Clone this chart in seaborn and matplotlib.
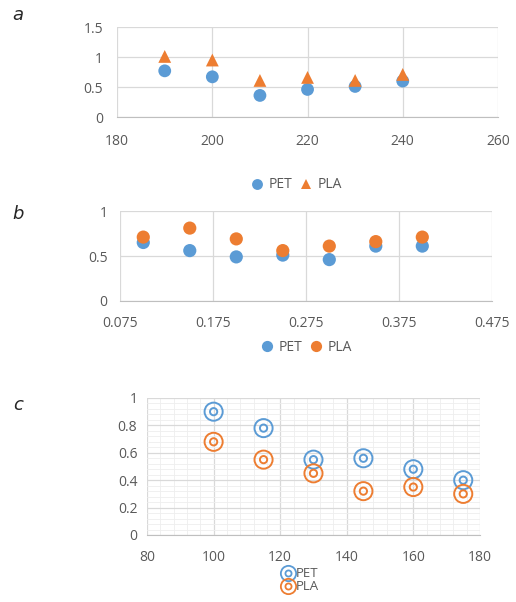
import numpy as np
import pandas as pd
import matplotlib
matplotlib.use("Agg")
import matplotlib.pyplot as plt
from matplotlib.lines import Line2D
from matplotlib.path import Path
import seaborn as sns

# Dados - painel a
x_a = [190, 200, 210, 220, 230, 240]
pet_a = [0.77, 0.67, 0.36, 0.46, 0.51, 0.60]
pla_a = [1.01, 0.95, 0.61, 0.66, 0.61, 0.71]

# Dados - painel b
x_b = [0.1, 0.15, 0.2, 0.25, 0.3, 0.35, 0.4]
pet_b = [0.65, 0.56, 0.49, 0.51, 0.46, 0.61, 0.61]
pla_b = [0.71, 0.81, 0.69, 0.56, 0.61, 0.66, 0.71]

# Dados - painel c
x_c = [100, 115, 130, 145, 160, 175]
pet_c = [0.90, 0.78, 0.55, 0.56, 0.48, 0.40]
pla_c = [0.68, 0.55, 0.45, 0.32, 0.35, 0.30]

materiais = ["PET", "PLA"]
cores = {"PET": "#5B9BD5", "PLA": "#ED7D31"}

sns.set_style("white")
plt.rcParams["font.family"] = ["Open Sans", "DejaVu Sans"]

TICK_COLOR = "#595959"
GRID_COLOR = "#D9D9D9"

# marcador de circulo duplo (anel externo + anel interno)
anel_duplo = Path.make_compound_path(Path.unit_circle(),
                                     Path(Path.unit_circle().vertices * 0.4,
                                          Path.unit_circle().codes))


def tabela(x, pet, pla):
    return pd.DataFrame({
        "x": list(x) * 2,
        "y": list(pet) + list(pla),
        "material": ["PET"] * len(pet) + ["PLA"] * len(pla),
    })


def estilo_eixo(ax, xpad, ypad):
    for lado in ["top", "right", "left"]:
        ax.spines[lado].set_visible(False)
    ax.spines["bottom"].set_color("#BFBFBF")
    ax.grid(True, color=GRID_COLOR, linewidth=0.9)
    ax.set_axisbelow(True)
    ax.tick_params(axis="x", length=0, pad=xpad, labelsize=10, labelcolor=TICK_COLOR)
    ax.tick_params(axis="y", length=0, pad=ypad, labelsize=10, labelcolor=TICK_COLOR)
    ax.set_xlabel("")
    ax.set_ylabel("")


fig = plt.figure(figsize=(5.16, 6.02), dpi=100)

# Painel a
ax_a = fig.add_axes([0.227, 0.8056, 0.738, 0.1495])
sns.scatterplot(data=tabela(x_a, pet_a, pla_a), x="x", y="y", hue="material",
                style="material", markers={"PET": "o", "PLA": "^"},
                palette=cores, s=85, linewidth=0, ax=ax_a)
ax_a.set_xlim(180, 260)
ax_a.set_ylim(0, 1.5)
ax_a.set_xticks([180, 200, 220, 240, 260])
ax_a.set_yticks([0, 0.5, 1, 1.5])
ax_a.set_yticklabels(["0", "0.5", "1", "1.5"])
estilo_eixo(ax_a, 12, 10)
sns.move_legend(ax_a, "center", bbox_to_anchor=(0.47, -0.755), ncol=2,
                frameon=False, title=None, fontsize=10, handletextpad=0.3,
                columnspacing=0.5, markerscale=0.85, handlelength=1.0)
for t in ax_a.get_legend().get_texts():
    t.set_color(TICK_COLOR)

# Painel b
ax_b = fig.add_axes([0.2326, 0.5, 0.721, 0.1495])
sns.scatterplot(data=tabela(x_b, pet_b, pla_b), x="x", y="y", hue="material",
                palette=cores, s=90, linewidth=0, ax=ax_b)
ax_b.set_xlim(0.075, 0.475)
ax_b.set_ylim(0, 1)
ax_b.set_xticks([0.075, 0.175, 0.275, 0.375, 0.475])
ax_b.set_xticklabels(["0.075", "0.175", "0.275", "0.375", "0.475"])
ax_b.set_yticks([0, 0.5, 1])
ax_b.set_yticklabels(["0", "0.5", "1"])
estilo_eixo(ax_b, 11, 9)
sns.move_legend(ax_b, "center", bbox_to_anchor=(0.5, -0.52), ncol=2,
                frameon=False, title=None, fontsize=10, handletextpad=0.3,
                columnspacing=0.5, markerscale=0.85, handlelength=1.0)
for t in ax_b.get_legend().get_texts():
    t.set_color(TICK_COLOR)

# Painel c - circulos duplos
ax_c = fig.add_axes([0.285, 0.1113, 0.645, 0.2276])
df_c = tabela(x_c, pet_c, pla_c)
for m in materiais:
    sub = df_c[df_c["material"] == m]
    ax_c.scatter(sub["x"], sub["y"], s=170, marker=anel_duplo, facecolors="none",
                 edgecolors=cores[m], linewidths=1.4, zorder=3)
ax_c.set_xlim(80, 180)
ax_c.set_ylim(0, 1)
ax_c.set_xticks([80, 100, 120, 140, 160, 180])
ax_c.set_yticks([0, 0.2, 0.4, 0.6, 0.8, 1])
ax_c.set_yticklabels(["0", "0.2", "0.4", "0.6", "0.8", "1"])
ax_c.set_xticks(np.arange(80, 181, 4), minor=True)
ax_c.set_yticks(np.arange(0, 1.001, 0.04), minor=True)
estilo_eixo(ax_c, 11, 7)
ax_c.grid(True, which="minor", color="#EEEEEE", linewidth=0.6)
ax_c.tick_params(which="minor", length=0)

handles = [Line2D([], [], marker=anel_duplo, linestyle="", markersize=11,
                  markerfacecolor="none", markeredgecolor=cores[m],
                  markeredgewidth=1.3) for m in materiais]
leg = ax_c.legend(handles, materiais, loc="center", bbox_to_anchor=(0.46, -0.33),
                  frameon=False, fontsize=9.5, handletextpad=0.1, labelspacing=0.0,
                  handlelength=1.0)
for t in leg.get_texts():
    t.set_color(TICK_COLOR)

# Letras dos paineis
for letra, y in [("a", 0.975), ("b", 0.645), ("c", 0.327)]:
    fig.text(0.035, y, letra, fontsize=13, style="italic", family="DejaVu Sans",
             ha="center", va="center")

fig.savefig("out.png", dpi=100)
